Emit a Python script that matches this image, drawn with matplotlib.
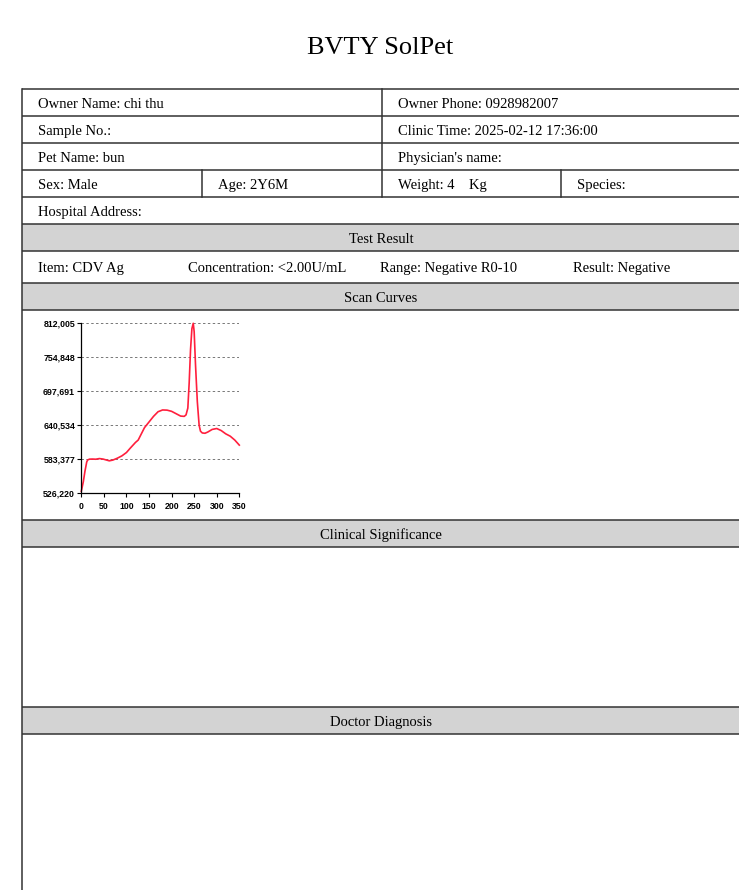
import matplotlib
matplotlib.use("Agg")
import matplotlib.pyplot as plt
from matplotlib.patches import Rectangle
from matplotlib.ticker import FuncFormatter

# scan curve
scan_x = [0, 4.5, 8, 12, 14, 18, 25, 32, 40, 48, 55, 62, 70, 80, 90, 100, 108,
          120, 126, 130, 140, 150, 160, 170, 180, 190, 200, 210, 220, 228, 232,
          236, 239, 242, 245, 248, 250, 253, 257, 261, 264, 268, 274, 280, 290,
          300, 310, 320, 330, 340, 350]
scan_y = [528500, 544800, 562000, 578000, 581400, 582800, 583000, 582700,
          583800, 583000, 581500, 580000, 581300, 584500, 588400, 594000,
          601000, 611000, 615000, 621000, 636000, 645500, 655000, 662800,
          665800, 665500, 663500, 659500, 655500, 655000, 657500, 669000,
          712000, 768000, 803000, 812000, 798000, 742000, 680000, 640000,
          630000, 627000, 626500, 628500, 633000, 634500, 631000, 625500,
          621500, 615000, 606500]
y_ticks = [526220, 583377, 640534, 697691, 754848, 812005]
x_ticks = [0, 50, 100, 150, 200, 250, 300, 350]

title = "BVTY SolPet"
info_rows = [
    [("Owner Name: chi thu", 38), ("Owner Phone: 0928982007", 398)],
    [("Sample No.:", 38), ("Clinic Time: 2025-02-12 17:36:00", 398)],
    [("Pet Name: bun", 38), ("Physician's name:", 398)],
    [("Sex: Male", 38), ("Age: 2Y6M", 218), ("Weight: 4    Kg", 398), ("Species:", 577)],
    [("Hospital Address:", 38)],
]
result_items = [("Item: CDV Ag", 38), ("Concentration: <2.00U/mL", 188),
                ("Range: Negative R0-10", 380), ("Result: Negative", 573)]
sections = ["Test Result", "Scan Curves", "Clinical Significance", "Doctor Diagnosis"]

W, H = 739, 890
FONT = "Liberation Serif"
FS = 10.5
BASE = 5.3  # baseline offset below row middle, px
LINE = "#333333"
GRAY = "#d3d3d3"

fig = plt.figure(figsize=(W / 100, H / 100), dpi=100)
bg = fig.add_axes([0, 0, 1, 1])
bg.set_xlim(0, W)
bg.set_ylim(H, 0)
bg.axis("off")

bg.text(380, 54.5, title, fontsize=19, family=FONT, ha="center", va="baseline")

# gray section bars: (top, bottom)
bars = [(224, 251), (283, 310), (520, 547), (707, 734)]
for (top, bot), name in zip(bars, sections):
    bg.add_patch(Rectangle((22, top), W - 22, bot - top, facecolor=GRAY, edgecolor="none"))
    bg.text(381, (top + bot) / 2 + BASE, name, fontsize=FS, family=FONT,
            ha="center", va="baseline")

hlines = [89, 116, 143, 170, 197, 224, 251, 283, 310, 520, 547, 707, 734]
for y in hlines:
    bg.plot([22, W], [y, y], color=LINE, lw=1.1, solid_capstyle="butt")
bg.plot([22, 22], [89, H], color=LINE, lw=1.1)
bg.plot([382, 382], [89, 197], color=LINE, lw=1.1)
for x in (202, 561):
    bg.plot([x, x], [170, 197], color=LINE, lw=1.1)

row_mid = [102.5, 129.5, 156.5, 183.5, 210.5]
for row, y in zip(info_rows, row_mid):
    for txt, x in row:
        bg.text(x, y + BASE, txt, fontsize=FS, family=FONT, ha="left", va="baseline")
for txt, x in result_items:
    bg.text(x, 267 + BASE, txt, fontsize=FS, family=FONT, ha="left", va="baseline")

# scan curve plot
x0, x1 = 81.3, 239.3
y_top, y_bot = 323.3, 492.7
ax = fig.add_axes([x0 / W, (H - y_bot) / H, (x1 - x0) / W, (y_bot - y_top) / H])
ax.plot(scan_x, scan_y, color="#ff1f3d", lw=1.2, clip_on=False)
ax.set_xlim(0, 350)
ax.set_ylim(y_ticks[0], y_ticks[-1])
ax.set_xticks(x_ticks)
ax.set_yticks(y_ticks)
ax.yaxis.set_major_formatter(FuncFormatter(lambda v, p: "{:,}".format(int(round(v)))))
for y in y_ticks[1:]:
    ax.axhline(y, color="#777777", lw=0.7, ls=(0, (2.5, 2.5)), zorder=0)
for s in ("top", "right"):
    ax.spines[s].set_visible(False)
for s in ("left", "bottom"):
    ax.spines[s].set_color("black")
    ax.spines[s].set_linewidth(0.9)
ax.tick_params(axis="both", length=3, width=0.8, labelsize=6.3)
ax.tick_params(axis="x", pad=3.5)
ax.tick_params(axis="y", pad=1.5)
for lab in ax.get_xticklabels() + ax.get_yticklabels():
    lab.set_fontweight("bold")
    lab.set_family("Liberation Sans")
ax.patch.set_alpha(0)

fig.savefig("out.png", dpi=100)
